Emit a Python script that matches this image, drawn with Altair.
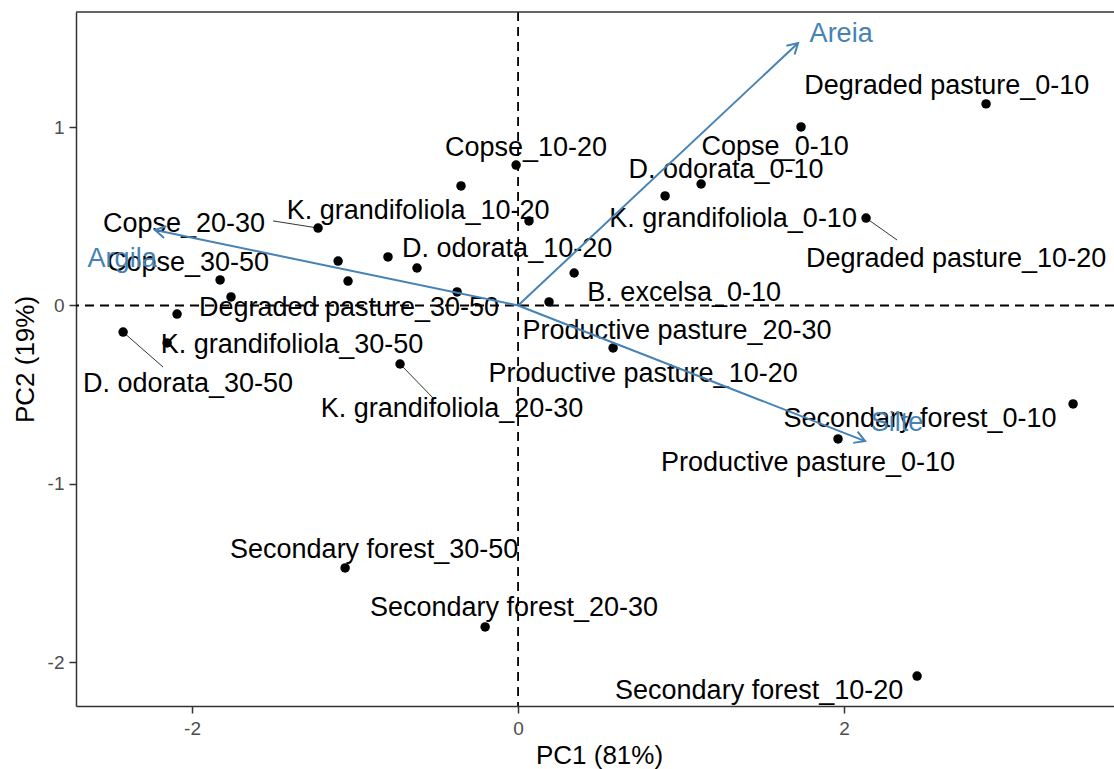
import math
import altair as alt
import pandas as pd

# ---- data ----
names = [
    "Degraded pasture_0-10", "Copse_0-10", "Copse_10-20", "K. grandifoliola_10-20",
    "K. grandifoliola_0-10", "D. odorata_0-10", "Degraded pasture_10-20", "D. odorata_10-20",
    "Copse_20-30", "D. odorata_20-30", "B. excelsa_30-50", "B. excelsa_20-30",
    "Degraded pasture_30-50", "Copse_30-50", "B. excelsa_0-10", "B. excelsa_10-20",
    "Degraded pasture_20-30", "Productive pasture_20-30", "Productive pasture_30-50",
    "D. odorata_30-50", "K. grandifoliola_30-50", "K. grandifoliola_20-30",
    "Productive pasture_10-20", "Productive pasture_0-10", "Secondary forest_0-10",
    "Secondary forest_30-50", "Secondary forest_20-30", "Secondary forest_10-20",
]
pc1 = [2.871, 1.736, -0.012, -0.350, 0.902, 1.123, 2.135, 0.067,
       -1.227, -1.104, -0.798, -0.620, -1.043, -1.828, 0.344, -0.374,
       -1.761, 0.190, -2.092, -2.423, -2.153, -0.724,
       0.583, 1.963, 3.405, -1.061, -0.202, 2.448]
pc2 = [1.130, 1.001, 0.787, 0.670, 0.614, 0.681, 0.490, 0.474,
       0.434, 0.249, 0.272, 0.210, 0.137, 0.143, 0.182, 0.076,
       0.048, 0.020, -0.048, -0.149, -0.210, -0.328,
       -0.238, -0.748, -0.552, -1.471, -1.802, -2.077]
# repelled label positions (None = label dropped by the repel step)
label_pc1 = [2.630, 1.577, 0.049, -0.613, 1.319, 1.276, 2.687, -0.067,
             -2.049, None, None, None, -1.037, -2.025, 1.019, None,
             None, 0.975, None, -2.025, -1.387, -0.405,
             0.767, 1.779, 2.466, -0.883, -0.025, 1.479]
label_pc2 = [1.242, 0.900, 0.894, 0.541, 0.496, 0.771, 0.272, 0.328,
             0.468, None, None, None, -0.003, 0.249, 0.081, None,
             None, -0.132, None, -0.429, -0.210, -0.569,
             -0.373, -0.872, -0.625, -1.359, -1.684, -2.150]
# leader segments drawn from the point to the label edge
seg_names = ["Copse_20-30", "Degraded pasture_10-20", "D. odorata_30-50", "K. grandifoliola_20-30"]
seg_end_pc1 = [-1.503, 2.325, -2.178, -0.521]
seg_end_pc2 = [0.474, 0.367, -0.345, -0.519]

# variable loadings (arrows)
var_names = ["Areia", "Argila", "Silte"]
var_pc1 = [1.718, -2.227, 2.129]
var_pc2 = [1.471, 0.423, -0.760]
var_label_pc1 = [1.982, -2.429, 2.325]
var_label_pc2 = [1.533, 0.272, -0.647]

x_ticks = [-2, 0, 2]
y_ticks = [-2, -1, 0, 1]
x_domain = [-2.712, 3.656]
y_domain = [-2.245, 1.645]
x_title = "PC1 (81%)"
y_title = "PC2 (19%)"

# ---- layout / style ----
W, H = 1038, 694
FONT = "Liberation Sans"
BLUE = "#4682B4"

pts = pd.DataFrame({"name": names, "pc1": pc1, "pc2": pc2,
                    "lx": label_pc1, "ly": label_pc2})
segs = pd.DataFrame({"name": seg_names})
segs = segs.merge(pts[["name", "pc1", "pc2"]], on="name")
segs["ex"] = seg_end_pc1
segs["ey"] = seg_end_pc2

xs = W / (x_domain[1] - x_domain[0])
ys = H / (y_domain[1] - y_domain[0])
vec = pd.DataFrame({"var": var_names, "vx": var_pc1, "vy": var_pc2,
                    "tx": var_label_pc1, "ty": var_label_pc2})
vec["x0"] = 0.0
vec["y0"] = 0.0
vec["ang"] = [(math.degrees(math.atan2(-vy * ys, vx * xs)) + 360) % 360
              for vx, vy in zip(var_pc1, var_pc2)]

xsc = alt.Scale(domain=x_domain, nice=False, zero=False)
ysc = alt.Scale(domain=y_domain, nice=False, zero=False)
xax = alt.Axis(values=x_ticks, title=x_title, titleX=523, titleY=57,
               titleBaseline="alphabetic", labelPadding=6,
               labelExpr="'' + datum.value")
yax = alt.Axis(values=y_ticks, title=y_title, titleX=-43, titleY=H / 2,
               titleBaseline="alphabetic", titleAngle=270, labelPadding=5,
               labelExpr="'' + datum.value")

base = alt.Chart(pts)

vline = alt.Chart(pd.DataFrame({"v": [0]})).mark_rule(
    color="black", strokeWidth=1.8, strokeDash=[9, 6]
).encode(x=alt.X("v:Q", scale=xsc, axis=xax))
hline = alt.Chart(pd.DataFrame({"v": [0]})).mark_rule(
    color="black", strokeWidth=1.8, strokeDash=[9, 6]
).encode(y=alt.Y("v:Q", scale=ysc, axis=yax))

top_border = alt.Chart(pd.DataFrame({"v": [0]})).mark_rule(
    color="#333333", strokeWidth=1.5
).encode(x=alt.value(0), x2=alt.value(W), y=alt.value(0))

points = base.mark_circle(size=90, color="black", opacity=1).encode(
    x=alt.X("pc1:Q", scale=xsc), y=alt.Y("pc2:Q", scale=ysc),
    tooltip=["name:N"])

seglines = alt.Chart(segs).mark_rule(color="black", strokeWidth=0.8).encode(
    x=alt.X("pc1:Q", scale=xsc), y=alt.Y("pc2:Q", scale=ysc),
    x2="ex:Q", y2="ey:Q")

labels = base.transform_filter("isValid(datum.lx)").mark_text(
    font=FONT, fontSize=27, color="black", align="center", baseline="middle", dy=2
).encode(x=alt.X("lx:Q", scale=xsc), y=alt.Y("ly:Q", scale=ysc), text="name:N")

shafts = alt.Chart(vec).mark_rule(color=BLUE, strokeWidth=2).encode(
    x=alt.X("x0:Q", scale=xsc), y=alt.Y("y0:Q", scale=ysc), x2="vx:Q", y2="vy:Q")

heads = alt.Chart(vec).mark_point(
    shape="M-0.866,-0.5L0,0L-0.866,0.5", filled=False, color=BLUE,
    strokeWidth=2, size=576, opacity=1
).encode(x=alt.X("vx:Q", scale=xsc), y=alt.Y("vy:Q", scale=ysc),
         angle=alt.Angle("ang:Q", scale=None))

vlabels = alt.Chart(vec).mark_text(
    font=FONT, fontSize=27, color=BLUE, align="center", baseline="middle", dy=2
).encode(x=alt.X("tx:Q", scale=xsc), y=alt.Y("ty:Q", scale=ysc), text="var:N")

chart = alt.layer(
    vline, hline, top_border, points, seglines, labels, shafts, heads, vlabels
).properties(
    width=W, height=H,
    autosize=alt.AutoSizeParams(type="none"),
    padding={"left": 76, "top": 12, "right": 0, "bottom": 63},
    background="white",
).configure_view(stroke=None).configure_axis(
    grid=False, domainColor="#333333", domainWidth=1.5,
    tickColor="#333333", tickWidth=1.5, tickSize=7,
    labelColor="#4D4D4D", labelFont=FONT, labelFontSize=19,
    titleFont=FONT, titleFontSize=26, titleColor="black", titleFontWeight="normal",
)

chart.save("out.html", embed_options={"renderer": "svg", "actions": False})
